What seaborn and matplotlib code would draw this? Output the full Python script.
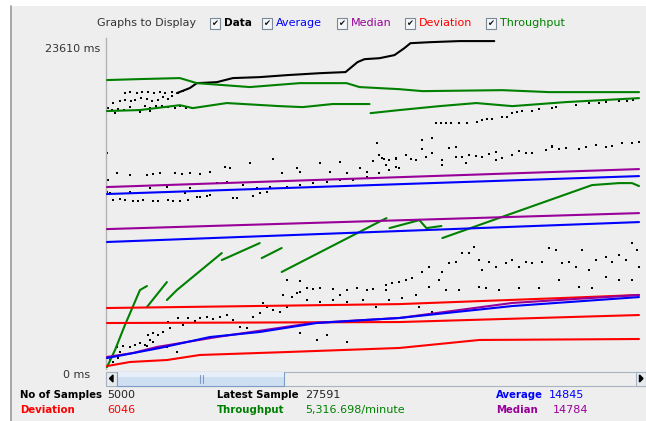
import numpy as np
import pandas as pd
import matplotlib
matplotlib.use('Agg')
import matplotlib.pyplot as plt
import seaborn as sns
from matplotlib.patches import Rectangle, Polygon

W, H = 646, 421
BG = '#eeeeee'

# legend / series
graph_names = ['Data', 'Average', 'Median', 'Deviation', 'Throughput']
graph_colors = ['black', '#0000ff', '#990099', '#ff0000', '#008000']
y_max_ms = 23610

# summary row values
no_of_samples = 5000
latest_sample = 27591
average_ms = 14845
deviation_ms = 6046
median_ms = 14784
throughput_txt = '5,316.698/minute'

# traces as (sample column, ms)
data_curve = [(71, 19680), (84, 20040), (91, 20390), (111, 20460), (127, 20750), (154, 20820),
              (181, 20960), (214, 21100), (240, 21180), (252, 21890), (259, 22100), (274, 22170),
              (289, 22390), (299, 22890), (305, 23240), (324, 23310), (354, 23390), (389, 23390)]

tput_top = [(1, 20610), (34, 20680), (74, 20750), (91, 20390), (144, 20110), (194, 20390),
            (241, 20390), (254, 20110), (294, 19960), (317, 19820), (397, 19890), (444, 19750),
            (504, 19750), (534, 19750)]
tput_mid_a = [(1, 18400), (34, 18470), (74, 18820), (87, 18610), (121, 18970), (174, 18750),
              (197, 18680), (227, 18900), (264, 18900)]
tput_mid_b = [(265, 18250), (294, 18470), (334, 18750), (371, 18970), (407, 18750), (461, 19040),
              (534, 19320)]
tput_low_1 = [(1, 140), (9, 1350), (19, 3140), (34, 5630), (41, 5920)]
tput_low_2 = [(41, 4420), (61, 6200)]
tput_low_3 = [(61, 4920), (71, 5630), (116, 8270)]
tput_low_4 = [(116, 7770), (154, 8980)]
tput_low_5 = [(156, 7910), (176, 8630)]
tput_low_6 = [(176, 6920), (277, 10620), (281, 10760)]
tput_low_7 = [(284, 10050), (314, 10620), (321, 10050), (336, 10200)]
tput_low_8 = [(337, 9340), (487, 13120), (514, 13260), (527, 13260), (534, 13050)]

median_hi = [(1, 12980), (534, 14260)]
avg_hi = [(1, 12480), (534, 13760)]
median_mid = [(1, 9980), (534, 11120)]
avg_mid = [(1, 9060), (534, 10480)]
median_low = [(1, 860), (27, 1140), (51, 1570), (111, 2280), (207, 3280), (294, 3640),
              (407, 4710), (534, 5280)]
avg_low = [(1, 780), (54, 1500), (104, 2280), (154, 2640), (211, 3280), (294, 3640),
           (407, 4490), (534, 5130)]
dev_hi = [(1, 4350), (294, 4630), (456, 5060), (534, 5280)]
dev_mid = [(1, 3280), (294, 3350), (534, 3850)]
dev_low = [(1, 210), (24, 500), (61, 640), (94, 1000), (181, 1210), (294, 1500), (374, 2070),
           (534, 2140)]

# sample dots
dots_top_left = [(7, 18970), (14, 19110), (19, 19180), (25, 19110), (29, 19180), (35, 19320),
                 (41, 19250), (46, 19110), (52, 19180), (57, 19390), (62, 19250), (66, 19460),
                 (19, 19680), (24, 19750), (31, 19680), (36, 19750), (42, 19750), (48, 19680),
                 (54, 19750), (59, 19680), (66, 19750), (72, 19680), (77, 19820), (2, 18610),
                 (6, 18470), (12, 18540), (18, 18470), (24, 18680), (32, 18470), (39, 18750),
                 (44, 18610), (50, 18750), (56, 18750), (62, 18680), (69, 18610), (74, 18750),
                 (80, 18610), (86, 18610), (9, 18250), (34, 18320), (44, 18400), (59, 18680)]
dots_top_right = [(331, 17540), (336, 17540), (341, 17540), (346, 17540), (354, 17540),
                  (362, 17540), (372, 17610), (377, 17750), (382, 17830), (387, 17830),
                  (397, 17970), (402, 17970), (407, 18250), (412, 18320), (417, 18400),
                  (427, 18400), (434, 18540), (447, 18610), (451, 18680), (471, 18820),
                  (484, 18970), (494, 18970), (501, 19040), (514, 19110), (522, 19110),
                  (528, 19180)]
dots_middle = [(7, 12050), (14, 12120), (19, 12050), (27, 11980), (32, 11980), (37, 12050),
               (47, 11980), (52, 11980), (62, 12050), (67, 11980), (74, 11980), (82, 12050),
               (91, 12260), (94, 12260), (101, 12330), (104, 12410), (127, 12190), (131, 12190),
               (147, 12330), (154, 12550), (161, 12620), (1, 12620), (4, 12550), (24, 12620),
               (44, 12910), (61, 12980), (79, 12550), (84, 12910), (111, 13260), (121, 13330),
               (137, 13120), (151, 12910), (164, 12980), (181, 12980), (194, 13120),
               (207, 13260), (221, 13330), (234, 13480), (247, 13480), (261, 13690),
               (274, 13970), (284, 14190), (291, 14400), (2, 13480), (11, 13970), (24, 13830),
               (41, 13830), (47, 13900), (54, 13970), (69, 13970), (76, 13900), (84, 13970),
               (94, 13900), (104, 14050), (119, 14400), (124, 14330), (144, 14690),
               (167, 14970), (176, 13970), (191, 14330), (194, 14050), (214, 14690),
               (224, 14050), (234, 14760), (241, 13970), (254, 14330), (261, 14050),
               (267, 14830), (274, 15260), (272, 16110), (279, 14970), (284, 14900),
               (291, 14970), (281, 14550), (1, 15400), (277, 15040), (291, 15040),
               (301, 15260), (306, 14970), (311, 14900), (317, 15690), (321, 15120),
               (327, 15400), (337, 14900), (344, 15760), (351, 15120), (357, 15120),
               (364, 15260), (371, 15190), (377, 15120), (384, 15330), (391, 15470),
               (397, 15040), (407, 15260), (414, 15540), (421, 15400), (427, 15400),
               (441, 15610), (447, 15830), (454, 15690), (461, 15760), (474, 15690),
               (481, 15830), (491, 15970), (501, 15830), (507, 15900), (517, 16110),
               (527, 16110), (534, 16190), (294, 14330), (337, 14550), (361, 14690),
               (391, 14900), (317, 16330), (327, 16470), (351, 15830), (447, 15900)]
dots_bottom = [(11, 1570), (17, 1640), (24, 1570), (29, 1710), (34, 1850), (39, 1710),
               (44, 2070), (47, 1930), (42, 2420), (47, 2570), (52, 2420), (57, 2640),
               (64, 2920), (62, 3350), (72, 3640), (77, 3140), (82, 3640), (89, 3420),
               (94, 3640), (101, 3710), (107, 3570), (114, 3710), (121, 3850), (127, 3490),
               (134, 2990), (141, 2920), (147, 3710), (154, 3990), (161, 4420), (157, 4710),
               (167, 4210), (174, 4060), (181, 4420), (177, 5280), (186, 5130), (191, 5420),
               (194, 5490), (201, 5780), (181, 6350), (194, 6270), (207, 5700), (214, 5780),
               (227, 5700), (234, 5280), (241, 5630), (251, 5780), (261, 5630), (267, 5700),
               (281, 5630), (287, 6130), (201, 4920), (214, 4780), (227, 4920), (241, 4780),
               (257, 4920), (271, 4420), (211, 2070), (221, 2420), (241, 1930), (194, 2570),
               (71, 1210), (41, 1640), (61, 1570), (14, 1210), (4, 640), (7, 500), (12, 780),
               (281, 5990), (294, 6200), (301, 6350), (307, 6490), (317, 6920), (324, 7270),
               (334, 6350), (337, 6920), (344, 7560), (351, 7630), (357, 8270), (364, 8270),
               (369, 8700), (374, 7770), (377, 7060), (384, 7630), (391, 7270), (401, 7560),
               (407, 7770), (414, 7270), (421, 7630), (427, 7560), (437, 7630), (444, 8630),
               (451, 8480), (457, 7560), (464, 7630), (471, 7270), (477, 8480), (484, 7060),
               (491, 7770), (501, 7990), (507, 7630), (514, 8130), (521, 7770), (527, 8980),
               (534, 7270), (532, 8480), (284, 4920), (297, 5060), (311, 5280), (324, 5850),
               (341, 5630), (354, 5630), (374, 5850), (381, 5780), (394, 5630), (414, 5780),
               (434, 5780), (454, 6350), (474, 5850), (487, 5780), (501, 6560), (514, 6350),
               (527, 6350), (314, 4420), (327, 4060)]

traces = [
    ('Data', data_curve),
    ('Throughput', tput_top), ('Throughput', tput_mid_a), ('Throughput', tput_mid_b),
    ('Throughput', tput_low_1), ('Throughput', tput_low_2), ('Throughput', tput_low_3),
    ('Throughput', tput_low_4), ('Throughput', tput_low_5), ('Throughput', tput_low_6),
    ('Throughput', tput_low_7), ('Throughput', tput_low_8),
    ('Deviation', dev_hi), ('Deviation', dev_mid), ('Deviation', dev_low),
    ('Median', median_hi), ('Median', median_mid), ('Median', median_low),
    ('Average', avg_hi), ('Average', avg_mid), ('Average', avg_low),
]

rows = []
for i, (name, pts) in enumerate(traces):
    for x, v in pts:
        rows.append({'sample': x, 'ms': v, 'series': name, 'trace': i})
lines_df = pd.DataFrame(rows)

dot_pts = dots_top_left + dots_top_right + dots_middle + dots_bottom
dots_df = pd.DataFrame(dot_pts, columns=['sample', 'ms'])

sns.set_style('white', {'axes.facecolor': BG})
plt.rcParams['font.family'] = ['DejaVu Sans']
plt.rcParams['font.size'] = 8

fig = plt.figure(figsize=(W / 100, H / 100), dpi=100)
fig.patch.set_facecolor('white')

# overlay in pixel coords for the window chrome
ov = fig.add_axes([0, 0, 1, 1], zorder=0)
ov.set_xlim(0, W)
ov.set_ylim(H, 0)
ov.axis('off')
ov.add_patch(Rectangle((10, 6), W - 10, H - 6, facecolor=BG, edgecolor='none'))
ov.plot([10.5, 10.5], [6, H], color='#9a9a9a', lw=1.2)

# "Graphs to Display" row
ov.text(97, 23, 'Graphs to Display', ha='left', va='center', color='#333333', fontsize=8)
box_x = [210, 262, 337, 405, 486]
for bx, name, col in zip(box_x, graph_names, graph_colors):
    ov.add_patch(Rectangle((bx, 18), 10, 11, facecolor='#f4f6f8', edgecolor='#7a8a99', lw=0.8))
    ov.text(bx + 5, 23.8, '\u2714', ha='center', va='center', fontsize=6, color='#111111')
    ov.text(bx + 14, 23, name, ha='left', va='center', color=col,
            fontsize=7.6 if name == 'Data' else 8,
            fontweight='bold' if name == 'Data' else 'normal')

# y labels
ov.text(100, 49, f'{y_max_ms} ms', ha='right', va='center', fontsize=8, color='#333333')
ov.text(90, 375, '0 ms', ha='right', va='center', fontsize=8, color='#333333')

# scrollbar
ov.add_patch(Rectangle((105.5, 371.5), W - 105, 14, facecolor='#eeeeee', edgecolor='#a8b4c0', lw=0.8))
ov.add_patch(Rectangle((105.5, 371.5), 11.5, 14, facecolor='#e6e9ee', edgecolor='#a8b4c0', lw=0.8))
ov.add_patch(Polygon([[113, 375], [113, 382], [109.5, 378.5]], closed=True, color='black'))
ov.add_patch(Rectangle((117, 371.5), 167, 14, facecolor='#cfdff2', edgecolor='#7c9cc6', lw=0.8))
ov.add_patch(Rectangle((117.5, 372), 166, 5, facecolor='#e6eef9', edgecolor='none'))
for gx in [199.5, 202.5]:
    ov.plot([gx, gx], [374.5, 383], color='#7c9cc6', lw=0.8)
ov.add_patch(Rectangle((636, 371.5), 10, 14, facecolor='#e6e9ee', edgecolor='#a8b4c0', lw=0.8))
ov.add_patch(Polygon([[639.5, 375], [639.5, 382], [643, 378.5]], closed=True, color='black'))

# summary rows
r1, r2 = 395, 410
BOLD = 7.3
ov.text(20, r1, 'No of Samples', fontweight='bold', va='center', fontsize=BOLD, color='black')
ov.text(107, r1, f'{no_of_samples}', va='center', fontsize=8, color='#222222')
ov.text(217, r1, 'Latest Sample', fontweight='bold', va='center', fontsize=BOLD, color='black')
ov.text(305, r1, f'{latest_sample}', va='center', fontsize=8, color='#222222')
ov.text(496, r1, 'Average', fontweight='bold', va='center', fontsize=BOLD, color='#0000ff')
ov.text(549, r1, f'{average_ms}', va='center', fontsize=8, color='#0000ff')
ov.text(20, r2, 'Deviation', fontweight='bold', va='center', fontsize=BOLD, color='#ff0000')
ov.text(107, r2, f'{deviation_ms}', va='center', fontsize=8, color='#ff0000')
ov.text(217, r2, 'Throughput', fontweight='bold', va='center', fontsize=BOLD, color='#008000')
ov.text(305, r2, throughput_txt, va='center', fontsize=8, color='#008000')
ov.text(496, r2, 'Median', fontweight='bold', va='center', fontsize=BOLD, color='#990099')
ov.text(553, r2, f'{median_ms}', va='center', fontsize=8, color='#990099')

# plot area
ax = fig.add_axes([106 / W, (H - 369) / H, 534 / W, 331 / H], zorder=1)
ax.set_facecolor(BG)
palette = dict(zip(graph_names, graph_colors))
sns.scatterplot(data=dots_df, x='sample', y='ms', color='black', marker='s', s=1.6,
                linewidth=0, ax=ax, legend=False, zorder=2)
sns.lineplot(data=lines_df, x='sample', y='ms', hue='series', units='trace', estimator=None,
             sort=False, palette=palette, linewidth=1.5, legend=False, ax=ax, zorder=3)
ax.set_xlim(0, 535)
ax.set_ylim(0, y_max_ms)
ax.set_xticks([])
ax.set_yticks([])
ax.set_xlabel('')
ax.set_ylabel('')
for s in ['top', 'right', 'bottom']:
    ax.spines[s].set_visible(False)
ax.spines['left'].set_color('#b4b4b4')
ax.spines['left'].set_linewidth(1.0)

fig.savefig('out.png', dpi=100, facecolor=fig.get_facecolor())
